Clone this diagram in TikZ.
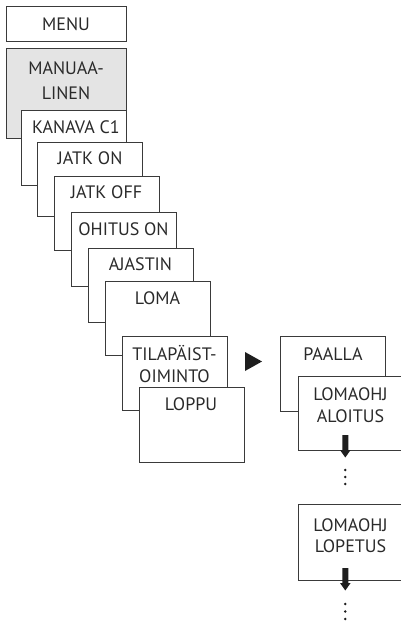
\documentclass[tikz,border=0pt]{standalone}
\usepackage{fontspec}
\setmainfont{PT Sans}
\definecolor{linec}{HTML}{3A3A3A}
\definecolor{txtc}{HTML}{2A2A2A}
\definecolor{grayfill}{HTML}{E4E4E4}
\definecolor{arrc}{HTML}{1E1E1E}
\begin{document}
\begin{tikzpicture}[x=1pt,y=-1pt,
  box/.style={draw=linec, line width=1pt, fill=white, rectangle, anchor=north west,
    minimum width=105pt, minimum height=74pt, inner sep=0pt, outer sep=0pt},
  lbl/.style={anchor=base, font=\fontsize{18}{22}\selectfont, text=txtc, inner sep=0pt},
  dot/.style={circle, fill=arrc, inner sep=0pt, minimum size=2.8pt},
  downarr/.pic={\fill[arrc] (-3,-22) -- (3,-22) -- (3,-7) -- (5.3,-7) -- (0,0.5) -- (-5.3,-7) -- (-3,-7) -- cycle;}
]
\useasboundingbox (0,0) rectangle (401,623);
\clip (0,0) rectangle (401,623);

% top boxes
\node[box, minimum width=120pt, minimum height=35pt] (menu) at (6,7) {};
\node[lbl] at (66,31) {MENU};
\node[box, fill=grayfill, minimum width=120pt, minimum height=89pt] (man) at (6,49) {};
\node[lbl] at (66,75) {MANUAA-};
\node[lbl] at (66,100) {LINEN};

% cascade
\node[box] (kan) at (21,111) {};
\node[lbl] at (76,133) {KANAVA C1};
\node[box] (jon) at (37.5,142) {};
\node[lbl] at (90,164.5) {JATK ON};
\node[box] (joff) at (54,176) {};
\node[lbl] at (106.5,198.5) {JATK OFF};
\node[box] (ohi) at (71,212) {};
\node[lbl] at (123.5,235) {OHITUS ON};
\node[box] (aja) at (88,248) {};
\node[lbl] at (140.5,270.5) {AJASTIN};
\node[box] (loma) at (105,281) {};
\node[lbl] at (157.5,304) {LOMA};
\node[box] (til) at (122,336) {};
\node[lbl] at (174.5,360) {TILAPÄIST-};
\node[lbl] at (174.5,382) {OIMINTO};
\node[box, minimum height=75pt] (lop) at (139,387) {};
\node[lbl] at (191,410) {LOPPU};

% arrow to submenu
\fill[arrc] (245,352) -- (245,371) -- (262,361.5) -- cycle;

% right column
\node[box, minimum height=75pt] (paa) at (280.5,336) {};
\node[lbl] at (333,360) {PAALLA};
\node[box] (alo) at (298,376) {};
\node[lbl] at (350.5,400) {LOMAOHJ};
\node[lbl] at (350.5,422) {ALOITUS};
\pic at (345.3,457) {downarr};
\node[dot] (d1) at (345.3,470) {};
\node[dot] (d2) at (345.3,477) {};
\node[dot] (d3) at (345.3,484) {};

\node[box, minimum height=76pt] (lope) at (298,504) {};
\node[lbl] at (350.5,531) {LOMAOHJ};
\node[lbl] at (350.5,552) {LOPETUS};
\pic at (345.3,590) {downarr};
\node[dot] (e1) at (345.3,604) {};
\node[dot] (e2) at (345.3,611.5) {};
\node[dot] (e3) at (345.3,619) {};
\end{tikzpicture}
\end{document}
